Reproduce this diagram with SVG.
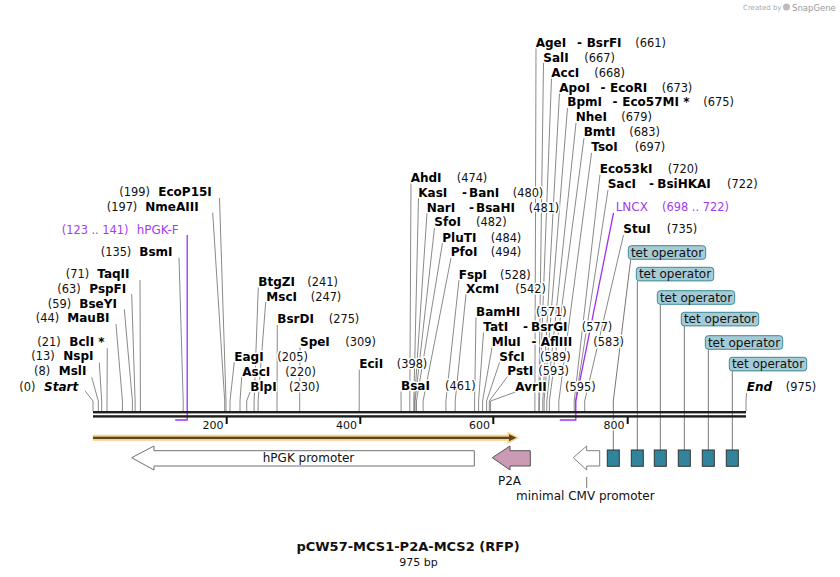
<svg xmlns="http://www.w3.org/2000/svg" width="840" height="577" viewBox="0 0 840 577">
<style>
text{font-family:"DejaVu Sans",Verdana,sans-serif;stroke:#fff;stroke-width:3;stroke-linejoin:round;paint-order:stroke}
.n{font-weight:bold;font-size:12px;fill:#000}
.i{font-weight:bold;font-style:italic;font-size:12px;fill:#000}
.p{font-size:11.4px;fill:#111}
.pu{font-size:12px;fill:#a33cf0}
.pp{font-size:11.4px;fill:#a33cf0}
.f{font-size:12px;fill:#111;stroke:none}
.tk{font-size:11px;fill:#111;text-anchor:end}
.cn polyline,.cn line{stroke:#8a8a8a;stroke-width:1;fill:none}
.cn .tl{stroke:#777;stroke-width:1;fill:none}
.cn .pr{stroke:#a030f0;stroke-width:1.3;fill:none}
.tb{fill:#a6cbd5;stroke:#3b8b9b;stroke-width:1}
.tbt{font-size:12px;fill:#111;stroke:none;text-anchor:middle}
.to{fill:#31849b;stroke:#333;stroke-width:1}
</style>
<rect width="840" height="577" fill="#fff"/>
<g id="watermark">
<text x="743" y="10" style="font-size:7px;fill:#aaa;stroke:none">Created by</text>
<circle cx="786.5" cy="7" r="3.5" fill="#bbb"/>
<text x="792" y="10.5" style="font-size:8.5px;fill:#999;stroke:none">SnapGene</text>
</g>
<g id="connectors" class="cn">
<polyline points="85,390.7 93,401 93,411"/>
<polyline points="91.7,377.3 98.3,401 98.3,411"/>
<polyline points="99.3,362.7 101.7,401 101.7,411"/>
<polyline points="107.3,348.3 107,401 107,411"/>
<polyline points="116,324 122.4,401 122.4,411"/>
<polyline points="124.3,309.3 132.4,401 132.4,411"/>
<polyline points="131.7,294 135.1,401 135.1,411"/>
<polyline points="140,280 140.4,401 140.4,411"/>
<polyline points="179,257.7 183.2,401 183.2,411"/>
<polyline points="212.7,212.7 224.7,401 224.7,411"/>
<polyline points="219.5,198 226,401 226,411"/>
<polyline points="234.3,362 230,401 230,411"/>
<polyline points="241.7,377 240,401 240,411"/>
<polyline points="250,392 246.7,401 246.7,411"/>
<polyline points="258.3,287.5 254.1,401 254.1,411"/>
<polyline points="265.7,302 258.1,401 258.1,411"/>
<polyline points="277.3,325 277,401 277,411"/>
<polyline points="300,347.5 299.7,401 299.7,411"/>
<polyline points="359.3,369.5 359.2,401 359.2,411"/>
<polyline points="401,391.5 401.1,401 401.1,411"/>
<polyline points="411,183 409.8,401 409.8,411"/>
<polyline points="418.5,198 413.8,401 413.8,411"/>
<polyline points="427,213 414.5,401 414.5,411"/>
<polyline points="434.5,228 415.1,401 415.1,411"/>
<polyline points="442.5,243 416.5,401 416.5,411"/>
<polyline points="451,258 423.1,401 423.1,411"/>
<polyline points="459,280 445.9,401 445.9,411"/>
<polyline points="466,294 455.2,401 455.2,411"/>
<polyline points="476,317.5 474.6,401 474.6,411"/>
<polyline points="483.5,332.5 478.6,401 478.6,411"/>
<polyline points="492,347.5 482.6,401 482.6,411"/>
<polyline points="499.5,362.5 486.6,401 486.6,411"/>
<polyline points="507.5,376.5 489.3,401 489.3,411"/>
<polyline points="515.5,392 490.6,401 490.6,411"/>
<polyline points="536,48 534.9,401 534.9,411"/>
<polyline points="543.5,63 538.8,401 538.8,411"/>
<polyline points="551.5,78 539.4,401 539.4,411"/>
<polyline points="559.5,93 542.8,401 542.8,411"/>
<polyline points="567.5,108 544.1,401 544.1,411"/>
<polyline points="576,123 546.8,401 546.8,411"/>
<polyline points="584,138 549.4,401 549.4,411"/>
<polyline points="591.5,153 558.8,401 558.8,411"/>
<polyline points="600,174.5 574.2,401 574.2,411"/>
<polyline points="608,190 575.5,401 575.5,411"/>
<polyline points="623.5,235 584.7,401 584.7,411"/>
<polyline points="746.5,393 746,401 746,411"/>
<polyline class="tl" points="630.7,259.5 613.3,401 613.3,450"/>
<polyline class="tl" points="637.3,281 637.3,450"/>
<polyline class="tl" points="660.3,304.3 660.3,450"/>
<polyline class="tl" points="684.3,326 684.3,450"/>
<polyline class="tl" points="708.3,349.3 708.3,450"/>
<polyline class="tl" points="732.3,371 732.3,450"/>
<line x1="586.7" y1="477" x2="586.7" y2="488" style="stroke:#777"/>
<polyline class="pr" points="187.2,235 187.2,420 175.2,420"/>
<polyline class="pr" points="613.5,213 575.8,401 575.8,420 559.8,420"/>
</g>
<g id="backbone">
<rect x="93" y="411" width="653" height="2.4" fill="#1e1e1e"/>
<rect x="93" y="415.2" width="653" height="2.4" fill="#1e1e1e"/>
<rect x="225.7" y="417" width="2" height="7" fill="#111"/>
<rect x="359.3" y="417" width="2" height="7" fill="#111"/>
<rect x="492.3" y="417" width="2" height="7" fill="#111"/>
<rect x="626.7" y="417" width="2" height="7" fill="#111"/>
<text class="tk" x="223.5" y="428.5">200</text>
<text class="tk" x="357" y="428.5">400</text>
<text class="tk" x="490" y="428.5">600</text>
<text class="tk" x="624.5" y="428.5">800</text>
</g>
<g id="orf">
<rect x="92.7" y="434.8" width="417" height="6" fill="#fbd183"/>
<polygon points="507.5,431.5 519,437.8 507.5,444.1" fill="#fbd183"/>
<rect x="93" y="436.7" width="416" height="2.3" fill="#5a4628"/>
<polygon points="509,434.3 516.5,437.8 509,441.3" fill="#5a4628"/>
</g>
<g id="hPGK-promoter">
<polygon points="131.7,457.7 154,446 154,450.7 474.3,450.7 474.3,466 154,466 154,470" fill="#fff" stroke="#707070" stroke-width="1"/>
<text class="f" x="308.5" y="462" text-anchor="middle">hPGK promoter</text>
</g>
<g id="P2A">
<polygon points="492.3,457.7 510,446 510,450.7 530.3,450.7 530.3,466 510,466 510,470" fill="#cb9ab4" stroke="#555" stroke-width="1"/>
<text class="f" x="509.5" y="484.5" text-anchor="middle">P2A</text>
</g>
<g id="minimal-CMV-promoter">
<polygon points="573.3,457.7 586.7,446 586.7,450.7 599.7,450.7 599.7,466 586.7,466 586.7,470" fill="#fff" stroke="#808080" stroke-width="1"/>
<text class="f" x="585.3" y="500" text-anchor="middle">minimal CMV promoter</text>
</g>
<g id="tet-operators">
<rect class="to" x="607.3" y="450" width="12" height="16.3"/>
<rect class="to" x="631.3" y="450" width="12" height="16.3"/>
<rect class="to" x="654.3" y="450" width="12" height="16.3"/>
<rect class="to" x="678.3" y="450" width="12" height="16.3"/>
<rect class="to" x="702.3" y="450" width="12" height="16.3"/>
<rect class="to" x="726.3" y="450" width="12" height="16.3"/>
</g>
<g id="tet-operator-labels">
<rect class="tb" x="628.3" y="245.7" width="77.4" height="13.6" rx="3"/><text class="tbt" x="667" y="256.6">tet operator</text>
<rect class="tb" x="636.3" y="267.3" width="77.4" height="13.6" rx="3"/><text class="tbt" x="675" y="278.2">tet operator</text>
<rect class="tb" x="657.3" y="290.7" width="77.4" height="13.6" rx="3"/><text class="tbt" x="696" y="301.6">tet operator</text>
<rect class="tb" x="681.3" y="312.3" width="77.4" height="13.6" rx="3"/><text class="tbt" x="720" y="323.2">tet operator</text>
<rect class="tb" x="705.3" y="335.7" width="77.4" height="13.6" rx="3"/><text class="tbt" x="744" y="346.6">tet operator</text>
<rect class="tb" x="729.3" y="357.3" width="77.4" height="13.6" rx="3"/><text class="tbt" x="768" y="368.2">tet operator</text>
</g>
<g id="primer-hPGK-F"><text class="pp" x="61.7" y="233.5">(123 .. 141)</text><text class="pu" x="136.7" y="233.5">hPGK-F</text></g>
<g id="primer-LNCX"><text class="pu" x="615.7" y="211">LNCX</text><text class="pp" x="662" y="211">(698 .. 722)</text></g>
<g id="e-EcoP15I"><text class="p" x="119.3" y="196.3">(199)</text><text class="n" x="158.3" y="196.3">EcoP15I</text></g>
<g id="e-NmeAIII"><text class="p" x="106.7" y="211">(197)</text><text class="n" x="145.3" y="211">NmeAIII</text></g>
<g id="e-BsmI"><text class="p" x="100.7" y="256">(135)</text><text class="n" x="139.3" y="256">BsmI</text></g>
<g id="e-TaqII"><text class="p" x="65.7" y="278">(71)</text><text class="n" x="97.3" y="278">TaqII</text></g>
<g id="e-PspFI"><text class="p" x="57.3" y="292.6">(63)</text><text class="n" x="89.3" y="292.6">PspFI</text></g>
<g id="e-BseYI"><text class="p" x="47.7" y="307.6">(59)</text><text class="n" x="79.3" y="307.6">BseYI</text></g>
<g id="e-MauBI"><text class="p" x="35.7" y="322">(44)</text><text class="n" x="67.3" y="322">MauBI</text></g>
<g id="e-BclI"><text class="p" x="37.3" y="346">(21)</text><text class="n" x="69.3" y="346">BclI *</text></g>
<g id="e-NspI"><text class="p" x="31.3" y="360.3">(13)</text><text class="n" x="63.3" y="360.3">NspI</text></g>
<g id="e-MslI"><text class="p" x="34" y="375.3">(8)</text><text class="n" x="58.7" y="375.3">MslI</text></g>
<g id="start"><text class="p" x="19.3" y="391">(0)</text><text class="i" x="44" y="391">Start</text></g>
<g id="e-BtgZI"><text class="n" x="258.3" y="286.3">BtgZI</text><text class="p" x="307.3" y="286.3">(241)</text></g>
<g id="e-MscI"><text class="n" x="266.3" y="301">MscI</text><text class="p" x="310.7" y="301">(247)</text></g>
<g id="e-BsrDI"><text class="n" x="277.3" y="323.3">BsrDI</text><text class="p" x="328.7" y="323.3">(275)</text></g>
<g id="e-SpeI"><text class="n" x="300" y="346">SpeI</text><text class="p" x="345.3" y="346">(309)</text></g>
<g id="e-EagI"><text class="n" x="234.3" y="361">EagI</text><text class="p" x="277.3" y="361">(205)</text></g>
<g id="e-AscI"><text class="n" x="242.3" y="376.3">AscI</text><text class="p" x="285.3" y="376.3">(220)</text></g>
<g id="e-BlpI"><text class="n" x="250.3" y="391">BlpI</text><text class="p" x="289" y="391">(230)</text></g>
<g id="e-EciI"><text class="n" x="359.3" y="368.3">EciI</text><text class="p" x="396.7" y="368.3">(398)</text></g>
<g id="e-BsaI"><text class="n" x="401" y="390.3">BsaI</text><text class="p" x="445" y="390.3">(461)</text></g>
<g id="e-AhdI"><text class="n" x="410.7" y="181.6">AhdI</text><text class="p" x="456.7" y="181.6">(474)</text></g>
<g id="e-KasI-BanI"><text class="n" x="418.3" y="196.6">KasI</text><text class="n" x="462" y="196.6">-</text><text class="n" x="469" y="196.6">BanI</text><text class="p" x="512.7" y="196.6">(480)</text></g>
<g id="e-NarI-BsaHI"><text class="n" x="426.7" y="211.6">NarI</text><text class="n" x="469" y="211.6">-</text><text class="n" x="476" y="211.6">BsaHI</text><text class="p" x="528.7" y="211.6">(481)</text></g>
<g id="e-SfoI"><text class="n" x="434.3" y="226.3">SfoI</text><text class="p" x="476" y="226.3">(482)</text></g>
<g id="e-PluTI"><text class="n" x="442.3" y="241.6">PluTI</text><text class="p" x="490.7" y="241.6">(484)</text></g>
<g id="e-PfoI"><text class="n" x="450.7" y="256.3">PfoI</text><text class="p" x="490.7" y="256.3">(494)</text></g>
<g id="e-FspI"><text class="n" x="458.7" y="278.6">FspI</text><text class="p" x="500" y="278.6">(528)</text></g>
<g id="e-XcmI"><text class="n" x="466" y="292.6">XcmI</text><text class="p" x="515.3" y="292.6">(542)</text></g>
<g id="e-BamHI"><text class="n" x="476" y="316">BamHI</text><text class="p" x="536" y="316">(571)</text></g>
<g id="e-TatI-BsrGI"><text class="n" x="483.3" y="331">TatI</text><text class="n" x="523" y="331">-</text><text class="n" x="531" y="331">BsrGI</text><text class="p" x="581.7" y="331">(577)</text></g>
<g id="e-MluI-AflIII"><text class="n" x="491.7" y="346">MluI</text><text class="n" x="531.5" y="346">-</text><text class="n" x="540.7" y="346">AflIII</text><text class="p" x="593.3" y="346">(583)</text></g>
<g id="e-SfcI"><text class="n" x="499.3" y="361">SfcI</text><text class="p" x="540" y="361">(589)</text></g>
<g id="e-PstI"><text class="n" x="507.3" y="375">PstI</text><text class="p" x="538.3" y="375">(593)</text></g>
<g id="e-AvrII"><text class="n" x="515.3" y="390.5">AvrII</text><text class="p" x="565" y="390.5">(595)</text></g>
<g id="e-AgeI-BsrFI"><text class="n" x="535.7" y="46.6">AgeI</text><text class="n" x="577" y="46.6">-</text><text class="n" x="586.7" y="46.6">BsrFI</text><text class="p" x="635.3" y="46.6">(661)</text></g>
<g id="e-SalI"><text class="n" x="543.3" y="61.6">SalI</text><text class="p" x="584.3" y="61.6">(667)</text></g>
<g id="e-AccI"><text class="n" x="551.3" y="76.6">AccI</text><text class="p" x="594.3" y="76.6">(668)</text></g>
<g id="e-ApoI-EcoRI"><text class="n" x="559.3" y="91.6">ApoI</text><text class="n" x="600.5" y="91.6">-</text><text class="n" x="610" y="91.6">EcoRI</text><text class="p" x="661.7" y="91.6">(673)</text></g>
<g id="e-BpmI-Eco57MI"><text class="n" x="567.3" y="106.3">BpmI</text><text class="n" x="612.5" y="106.3">-</text><text class="n" x="622.3" y="106.3">Eco57MI *</text><text class="p" x="703.3" y="106.3">(675)</text></g>
<g id="e-NheI"><text class="n" x="575.7" y="121.3">NheI</text><text class="p" x="621.3" y="121.3">(679)</text></g>
<g id="e-BmtI"><text class="n" x="583.7" y="136.3">BmtI</text><text class="p" x="629.3" y="136.3">(683)</text></g>
<g id="e-TsoI"><text class="n" x="591.3" y="151.3">TsoI</text><text class="p" x="634.7" y="151.3">(697)</text></g>
<g id="e-Eco53kI"><text class="n" x="599.7" y="173">Eco53kI</text><text class="p" x="667.7" y="173">(720)</text></g>
<g id="e-SacI-BsiHKAI"><text class="n" x="607.7" y="188.3">SacI</text><text class="n" x="649" y="188.3">-</text><text class="n" x="657.3" y="188.3">BsiHKAI</text><text class="p" x="727" y="188.3">(722)</text></g>
<g id="e-StuI"><text class="n" x="623.3" y="233.3">StuI</text><text class="p" x="666.7" y="233.3">(735)</text></g>
<g id="end"><text class="i" x="746.7" y="391">End</text><text class="p" x="785.7" y="391">(975)</text></g>
<g id="title">
<text x="408" y="551" text-anchor="middle" style="font-weight:bold;font-size:13px;fill:#111;stroke:none">pCW57-MCS1-P2A-MCS2 (RFP)</text>
<text x="418.5" y="566" text-anchor="middle" style="font-size:11px;fill:#111;stroke:none">975 bp</text>
</g>
</svg>
